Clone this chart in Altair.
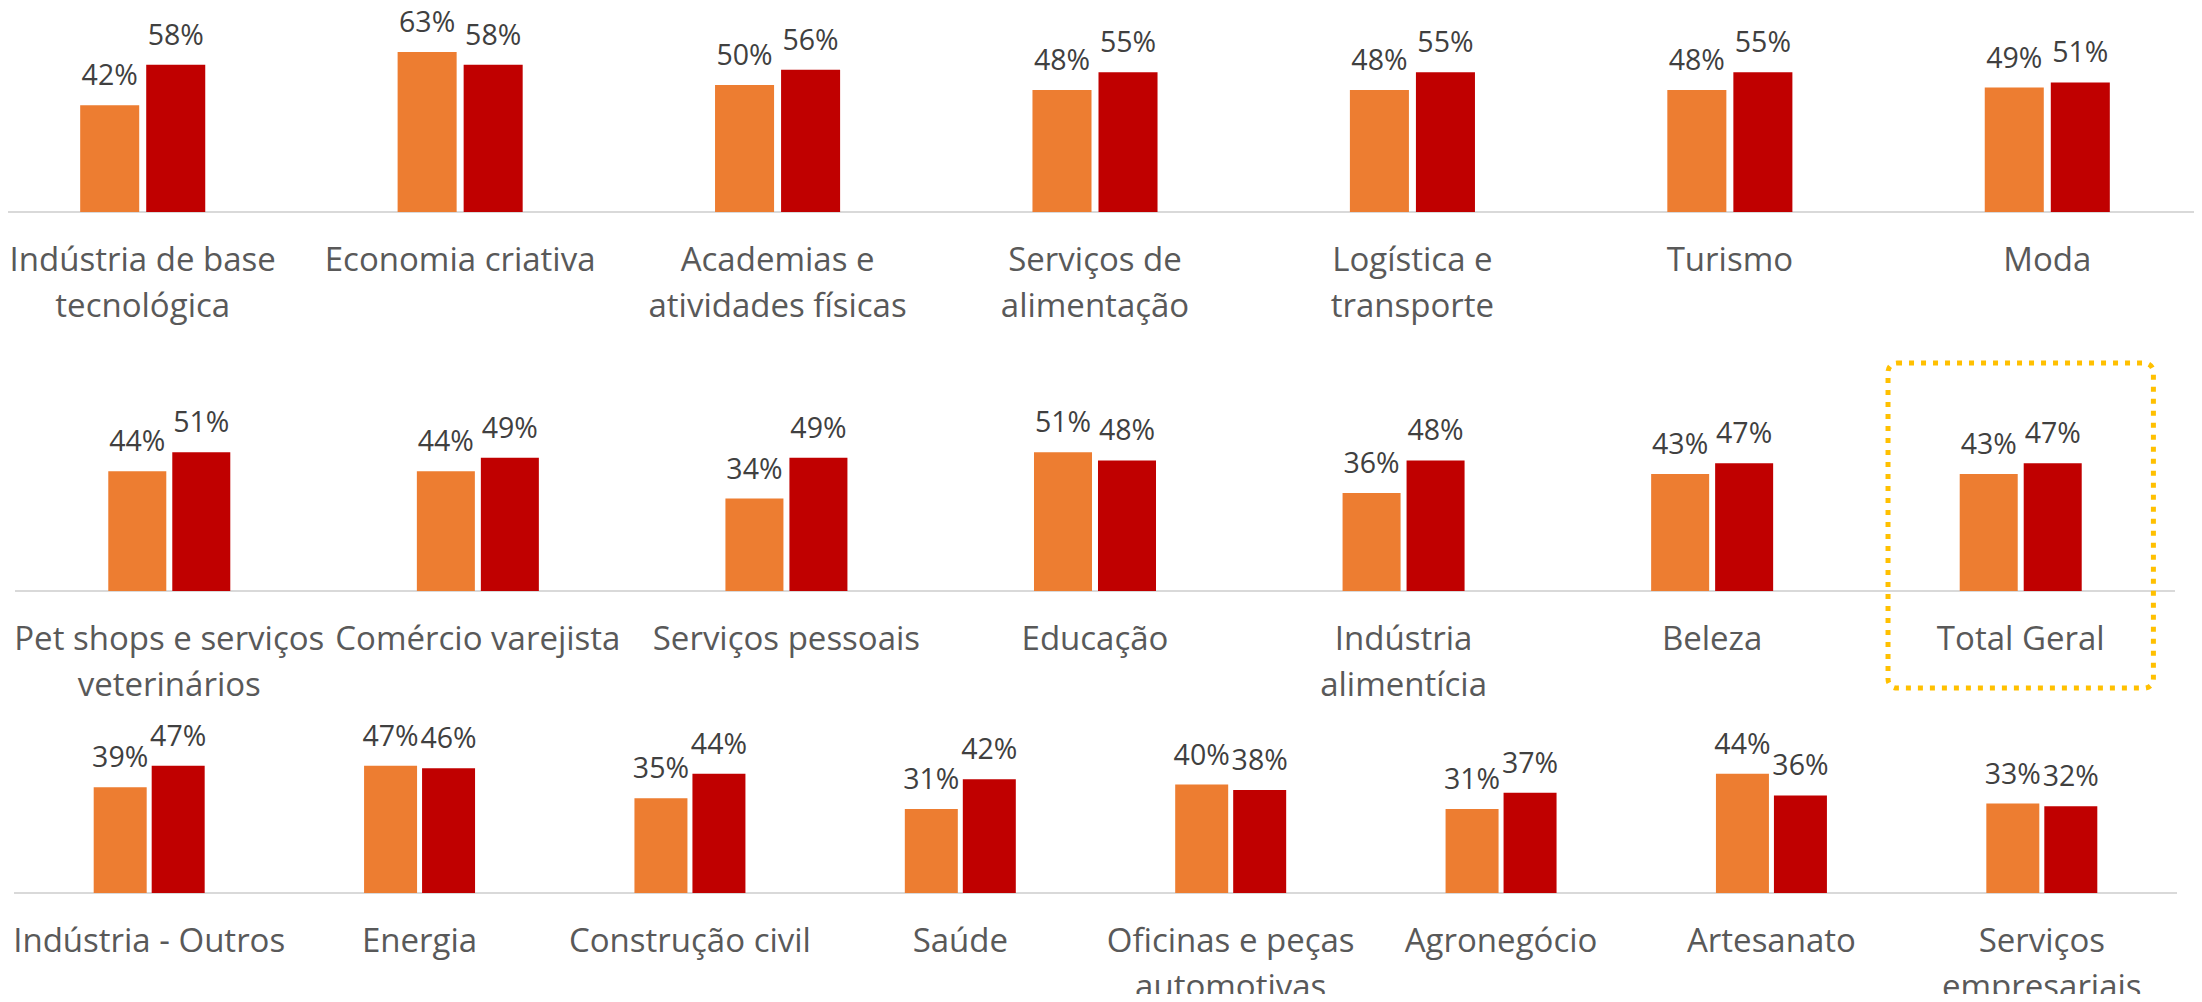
import altair as alt
import pandas as pd

# ---------------- data ----------------
series = ["Série 1", "Série 2"]
colors = ["#ED7D31", "#C00000"]

cats_r1 = ["Indústria de base\ntecnológica", "Economia criativa", "Academias e\natividades físicas",
           "Serviços de\nalimentação", "Logística e\ntransporte", "Turismo", "Moda"]
s1_r1 = [42, 63, 50, 48, 48, 48, 49]
s2_r1 = [58, 58, 56, 55, 55, 55, 51]

cats_r2 = ["Pet shops e serviços\nveterinários", "Comércio varejista", "Serviços pessoais", "Educação",
           "Indústria\nalimentícia", "Beleza", "Total Geral"]
s1_r2 = [44, 44, 34, 51, 36, 43, 43]
s2_r2 = [51, 49, 49, 48, 48, 47, 47]

cats_r3 = ["Indústria - Outros", "Energia", "Construção civil", "Saúde", "Oficinas e peças\nautomotivas",
           "Agronegócio", "Artesanato", "Serviços\nempresariais"]
s1_r3 = [39, 47, 35, 31, 40, 31, 44, 33]
s2_r3 = [47, 46, 44, 42, 38, 37, 36, 32]

highlight = ["Total Geral"]

# ---------------- layout (scales) ----------------
rows = [
    dict(cats=cats_r1, a=s1_r1, b=s2_r1, xr=[-24, 2198], yr=[204, -50], gi=0.606, oi=0.106, hl=False),
    dict(cats=cats_r2, a=s1_r2, b=s2_r2, xr=[7, 2167], yr=[583, 311], gi=0.6046, oi=0.0935, hl=True),
    dict(cats=cats_r3, a=s1_r3, b=s2_r3, xr=[6, 2169], yr=[885, 614], gi=0.5895, oi=0.0862, hl=False),
]

FONT = "Open Sans"
color_scale = alt.Scale(domain=series, range=colors)

layers = []
for r in rows:
    cats = r["cats"]
    df = pd.DataFrame({
        "category": cats + cats,
        "series": [series[0]] * len(cats) + [series[1]] * len(cats),
        "value": r["a"] + r["b"],
    })
    xs = alt.Scale(type="band", domain=cats, range=r["xr"], paddingInner=r["gi"], paddingOuter=r["gi"] / 2)
    xs_full = alt.Scale(type="band", domain=cats, range=r["xr"], paddingInner=0, paddingOuter=0)
    ys = alt.Scale(domain=[0, 100], range=r["yr"])
    os_bar = alt.Scale(type="band", domain=series, paddingInner=r["oi"], paddingOuter=0)
    os_txt = alt.Scale(type="point", domain=series, padding=(1 - r["oi"]) / 2)

    x_enc = alt.X("category:N", scale=xs, axis=None)
    y_enc = alt.Y("value:Q", scale=ys, axis=None)

    bars = alt.Chart(df).mark_bar().encode(
        x=x_enc, xOffset=alt.XOffset("series:N", scale=os_bar), y=y_enc,
        color=alt.Color("series:N", scale=color_scale, legend=None),
    )
    vals = alt.Chart(df).transform_calculate(lbl="datum.value + '%'").mark_text(
        font=FONT, fontSize=28.5, color="#404040", baseline="alphabetic", align="center", dy=-20
    ).encode(x=x_enc, xOffset=alt.XOffset("series:N", scale=os_txt), y=y_enc, text="lbl:N")

    cat_df = pd.DataFrame({"category": cats})
    labels = alt.Chart(cat_df).transform_calculate(
        lines="split(datum.category, '\\n')"
    ).mark_text(
        font=FONT, fontSize=33, color="#595959", baseline="alphabetic", align="center",
        dy=59, lineHeight=46
    ).encode(
        x=alt.X("category:N", scale=xs, axis=None),
        y=alt.YDatum(0, scale=ys, axis=None),
        text="lines:N",
    )

    base_df = pd.DataFrame({"start": [cats[0]], "end": [cats[-1]]})
    rule = alt.Chart(base_df).mark_rule(color="#D9D9D9", strokeWidth=2).encode(
        x=alt.X("start:N", scale=xs_full, axis=None, bandPosition=0),
        x2=alt.X2("end", bandPosition=1),
        y=alt.YDatum(0, scale=ys, axis=None),
    )

    layers += [rule, bars, vals, labels]

    if r["hl"]:
        hl_df = pd.DataFrame({"category": highlight})
        box = alt.Chart(hl_df).mark_rect(
            filled=False, stroke="#FFC000", strokeWidth=5, strokeDash=[5, 7],
            cornerRadius=9, width={"band": 0.86}
        ).encode(
            x=alt.X("category:N", scale=xs_full, axis=None),
            y=alt.YDatum(83.8, scale=ys, axis=None),
            y2=alt.Y2Datum(-35.7),
        )
        layers.append(box)

chart = alt.layer(*layers).resolve_scale(
    x="independent", y="independent", xOffset="independent"
).properties(
    width=2186, height=986, padding=0,
    autosize=alt.AutoSizeParams(type="none"),
).configure_view(stroke=None)

chart.save("out.html", embed_options={"renderer": "svg", "actions": False})
